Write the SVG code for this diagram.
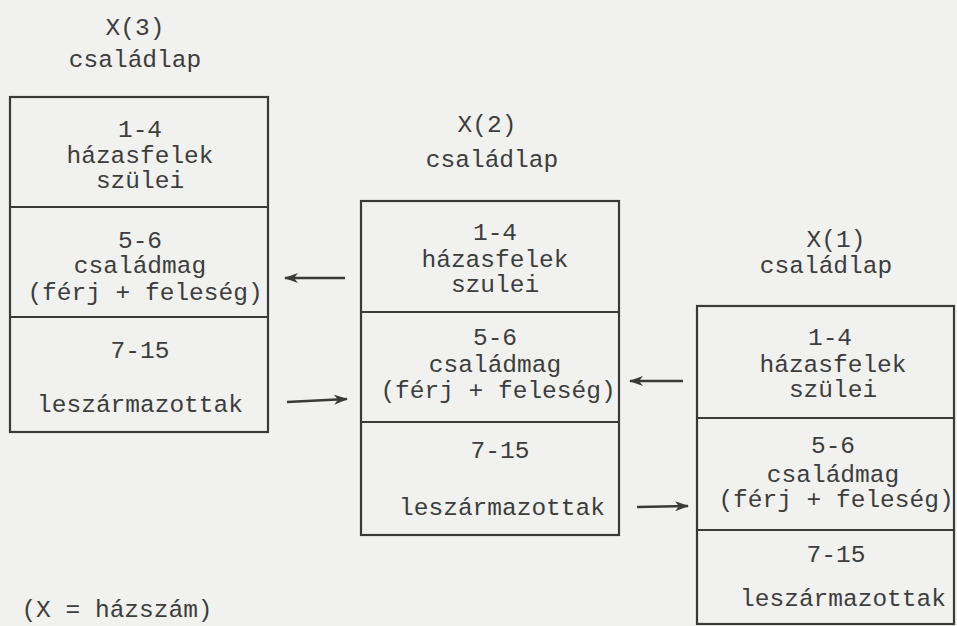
<svg xmlns="http://www.w3.org/2000/svg" width="957" height="626" viewBox="0 0 957 626">
<style>
text{font-family:"Liberation Mono","DejaVu Sans Mono",monospace;font-size:24.5px;fill:#3d3d3d;text-anchor:middle}
.box{fill:none;stroke:#3a3a3a;stroke-width:2.2}
.div{stroke:#3a3a3a;stroke-width:2}
.arr{stroke:#3a3a3a;stroke-width:2.4;fill:none;marker-end:url(#ah)}
</style>
<defs>
<marker id="ah" viewBox="0 0 14 10" refX="13" refY="5" markerWidth="14" markerHeight="10" markerUnits="userSpaceOnUse" orient="auto">
<path d="M0,0 L14,5 L0,10 L4,5 Z" fill="#3a3a3a"/>
</marker>
</defs>
<rect width="957" height="626" fill="#f1f1ef"/>
<g id="card3">
<text x="135" y="35">X(3)</text>
<text x="135" y="67">családlap</text>
<rect class="box" x="10" y="97" width="258" height="335"/>
<line class="div" x1="10" y1="207" x2="268" y2="207"/>
<line class="div" x1="10" y1="317" x2="268" y2="317"/>
<text x="140" y="137">1-4</text>
<text x="140" y="163">házasfelek</text>
<text x="140" y="188">szülei</text>
<text x="140" y="248">5-6</text>
<text x="140" y="273">családmag</text>
<text x="145" y="300">(férj + feleség)</text>
<text x="140" y="358">7-15</text>
<text x="140" y="412">leszármazottak</text>
</g>
<g id="card2">
<text x="487" y="132">X(2)</text>
<text x="492" y="167">családlap</text>
<rect class="box" x="361" y="201" width="258" height="334"/>
<line class="div" x1="361" y1="312" x2="619" y2="312"/>
<line class="div" x1="361" y1="422" x2="619" y2="422"/>
<text x="495" y="240">1-4</text>
<text x="495" y="267">házasfelek</text>
<text x="495" y="292">szulei</text>
<text x="495" y="345">5-6</text>
<text x="495" y="372">családmag</text>
<text x="498" y="398">(férj + feleség)</text>
<text x="500" y="458">7-15</text>
<text x="502" y="515">leszármazottak</text>
</g>
<g id="card1">
<text x="836" y="247">X(1)</text>
<text x="826" y="273">családlap</text>
<rect class="box" x="697" y="306" width="257" height="318"/>
<line class="div" x1="697" y1="418" x2="954" y2="418"/>
<line class="div" x1="697" y1="530" x2="954" y2="530"/>
<text x="830" y="345">1-4</text>
<text x="833" y="372">házasfelek</text>
<text x="833" y="397">szülei</text>
<text x="833" y="453">5-6</text>
<text x="833" y="482">családmag</text>
<text x="836" y="507">(férj + feleség)</text>
<text x="836" y="562">7-15</text>
<text x="843" y="606">leszármazottak</text>
</g>
<g id="note">
<text x="117" y="617">(X = házszám)</text>
</g>
<g id="connectors">
<line class="arr" x1="345" y1="278" x2="285" y2="278"/>
<line class="arr" x1="287" y1="402" x2="347" y2="399"/>
<line class="arr" x1="683" y1="381" x2="630" y2="381"/>
<line class="arr" x1="637" y1="507" x2="688" y2="506"/>
</g>
</svg>
